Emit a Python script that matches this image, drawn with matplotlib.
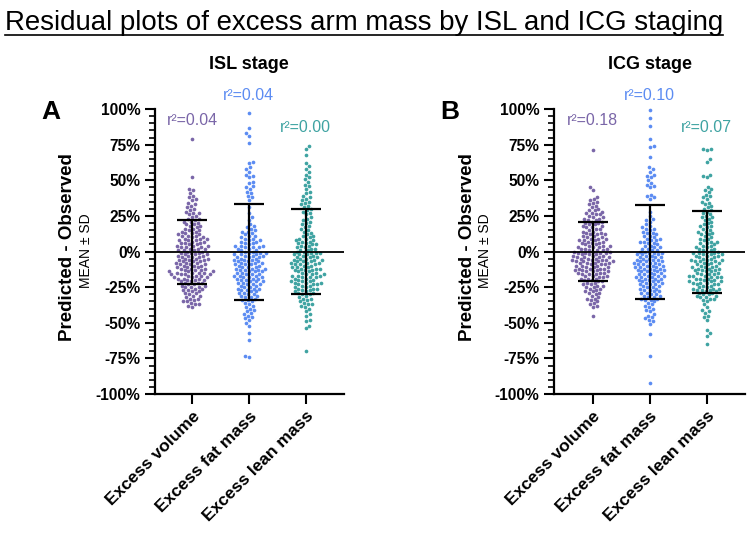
import numpy as np
import matplotlib.pyplot as plt
from matplotlib.lines import Line2D
from matplotlib.ticker import MultipleLocator

plt.rcParams['font.family'] = ['Liberation Sans', 'DejaVu Sans']

categories = ["Excess volume", "Excess fat mass", "Excess lean mass"]
colors = ['#7a66a8', '#5c8cf2', '#3fa3a2']

# residuals (%) - ISL staging
isl_volume = [79, 52, 44, 43, 41, 39, 38, 37, 36, 34, 33, 32, 31, 30,
              29, 28, 27, 27, 26, 25, 24, 23, 23, 22, 21, 21, 20,
              19, 19, 18, 18, 17, 16, 16, 15, 15,
              14, 14, 13, 13, 12, 12, 11, 11, 11, 10, 10,
              9, 9, 9, 8, 8, 8, 7, 7, 6, 6, 6, 5, 5,
              4, 4, 4, 3, 3, 3, 2, 2, 2, 1, 1, 1, 0, 0,
              -1, -1, -1, -2, -2, -2, -3, -3, -3, -4, -4, -4, -5, -5, -5,
              -6, -6, -6, -7, -7, -7, -8, -8, -8, -9, -9, -9, -10, -10, -10,
              -11, -11, -11, -12, -12, -12, -13, -13, -13, -14, -14, -14, -15, -15, -15, -15,
              -16, -16, -16, -16, -17, -17, -17, -18, -18, -18, -19, -19, -19, -20, -20, -20,
              -21, -21, -22, -22, -22, -23, -23, -24, -24, -25, -25, -25,
              -26, -26, -27, -27, -28, -28, -29, -29, -30,
              -31, -31, -32, -33, -33, -34, -35, -35,
              -36, -37, -37, -38, -39]
isl_fat = [97, 87, 83, 81, 76, 63, 62, 59, 58, 56, 54, 53, 52, 49, 48, 46, 45,
           44, 42, 41, 39, 38, 36, 31, 27, 24, 22,
           19, 18, 17, 16, 15, 14, 14, 13, 12, 11, 11, 10,
           9, 9, 8, 8, 7, 7, 6, 6, 5,
           4, 4, 4, 3, 3, 3, 2, 2, 1, 1, 0, 0,
           -1, -1, -1, -2, -2, -2, -3, -3, -3, -4, -4, -4, -5, -5,
           -6, -6, -6, -7, -7, -7, -8, -8, -8, -9, -9, -9, -10, -10,
           -11, -11, -11, -12, -12, -12, -13, -13, -13, -14, -14, -14, -15, -15,
           -16, -16, -16, -17, -17, -17, -18, -18, -18, -19, -19, -19, -20, -20,
           -21, -21, -21, -22, -22, -23, -23, -23, -24, -24, -25, -25,
           -26, -26, -26, -27, -27, -28, -28, -29, -29, -30, -30,
           -31, -31, -32, -32, -33, -34, -34, -35,
           -36, -37, -38, -39, -40, -41, -42, -43, -44, -45,
           -46, -47, -48, -50, -52, -57, -62, -73, -74]
isl_lean = [74, 72, 68, 62, 60, 58, 56, 54, 52, 51, 49, 47, 46, 44, 42, 41,
            39, 38, 37, 36, 35, 34, 33, 32, 31, 30, 29, 28, 27, 26,
            24, 23, 22, 21, 20, 19, 18, 17, 16, 15, 14, 13, 12, 11, 11,
            10, 9, 9, 8, 8, 7, 7, 6, 6, 5,
            5, 4, 4, 3, 3, 2, 2, 1, 1, 0, 0,
            -1, -1, -1, -2, -2, -2, -3, -3, -4, -4, -4, -5, -5,
            -6, -6, -6, -7, -7, -7, -8, -8, -8, -9, -9, -9, -10, -10,
            -11, -11, -11, -12, -12, -12, -13, -13, -13, -14, -14, -15, -15,
            -16, -16, -16, -17, -17, -17, -18, -18, -18, -19, -19, -20, -20,
            -21, -21, -21, -22, -22, -22, -23, -23, -23, -24, -24, -25, -25,
            -26, -26, -26, -27, -27, -28, -28, -29, -29, -30, -30,
            -31, -32, -33, -33, -34, -35, -36, -37, -37, -38, -39, -40,
            -42, -44, -45, -48, -49, -52, -54, -70]

# ICG staging
icg_volume = [71, 45, 43, 38, 37, 36, 35, 34, 33, 32, 31, 30,
              29, 29, 28, 27, 27, 26, 26, 25, 24, 24, 23, 23, 22, 22, 21, 21, 20,
              20, 19, 19, 18, 18, 17, 17, 16, 16, 15,
              14, 14, 13, 13, 12, 12, 12, 11, 11, 10, 10,
              9, 9, 9, 8, 8, 8, 7, 7, 6, 6, 6, 5, 5,
              4, 4, 4, 3, 3, 3, 2, 2, 2, 1, 1, 1, 0, 0, 0,
              -1, -1, -1, -1, -2, -2, -2, -3, -3, -3, -4, -4, -4, -4, -5, -5, -5,
              -6, -6, -6, -6, -7, -7, -7, -7, -8, -8, -8, -8, -9, -9, -9, -10, -10, -10,
              -11, -11, -11, -12, -12, -12, -12, -13, -13, -13, -14, -14, -14, -15, -15, -15,
              -16, -16, -16, -17, -17, -17, -18, -18, -19, -19, -19, -20, -20,
              -21, -21, -22, -22, -23, -23, -24, -24, -25, -25,
              -26, -26, -27, -28, -28, -29, -29, -30,
              -31, -32, -33, -33, -34, -35, -36, -37, -38, -39, -45]
icg_fat = [99, 94, 88, 79, 74, 73, 66, 59, 58, 56, 54, 53, 52, 50, 48, 47, 46, 45,
           40, 39, 38, 37, 28, 25, 23, 22, 21,
           19, 18, 17, 16, 16, 15, 14, 13, 13, 12, 11, 11, 10,
           9, 9, 8, 8, 7, 7, 6, 6, 5,
           4, 4, 3, 3, 2, 2, 1, 1, 0, 0,
           -1, -1, -1, -2, -2, -2, -3, -3, -4, -4, -4, -5, -5,
           -6, -6, -6, -7, -7, -7, -8, -8, -8, -9, -9, -9, -10, -10, -10,
           -11, -11, -11, -12, -12, -12, -13, -13, -13, -14, -14, -14, -15, -15,
           -16, -16, -16, -17, -17, -17, -18, -18, -18, -19, -19, -19, -20, -20,
           -21, -21, -21, -22, -22, -23, -23, -23, -24, -24, -25, -25,
           -26, -26, -27, -27, -28, -28, -29, -29, -30, -30,
           -31, -31, -32, -32, -33, -33, -34, -34, -35,
           -36, -37, -38, -39, -40, -41, -42, -44, -45,
           -46, -47, -48, -49, -51, -58, -73, -92]
icg_lean = [72, 72, 71, 65, 63, 54, 53, 52, 45, 44, 43, 42,
            40, 39, 38, 37, 35, 34, 33, 32, 31, 30, 29, 28, 27, 26, 25,
            24, 24, 23, 22, 21, 20, 19, 18, 18, 17, 16, 15,
            14, 14, 13, 12, 12, 11, 10, 9, 9, 8, 7, 7, 6, 6, 5,
            4, 4, 3, 3, 2, 2, 1, 1, 0, 0,
            -1, -1, -1, -2, -2, -2, -3, -3, -3, -4, -4, -5, -5,
            -6, -6, -6, -7, -7, -7, -8, -8, -8, -9, -9, -10, -10,
            -11, -11, -11, -12, -12, -12, -13, -13, -13, -14, -14, -15, -15,
            -16, -16, -16, -17, -17, -17, -18, -18, -18, -19, -19, -19, -20, -20,
            -21, -21, -21, -22, -22, -22, -23, -23, -23, -24, -24, -25, -25,
            -26, -26, -26, -27, -27, -27, -28, -28, -29, -29, -30, -30,
            -31, -31, -32, -32, -33, -33, -34, -35,
            -37, -39, -41, -42, -43, -45, -46, -48, -55, -57, -59, -65]

# mean +/- SD bars and r2 labels as shown
isl_mean = [-0.35, -0.5, -0.25]
isl_sd = [22.35, 33.5, 29.75]
icg_mean = [-0.25, -0.25, -0.25]
icg_sd = [20.75, 32.75, 28.75]
isl_r2 = ["0.04", "0.04", "0.00"]
icg_r2 = ["0.18", "0.10", "0.07"]
r2_y = [92, 109.5, 87]


def swarm(vals, d, ppu_y):
    y = np.asarray(vals, dtype=float) * ppu_y
    xs = np.zeros(len(y))
    placed = []
    for k, i in enumerate(np.argsort(y)):
        yi = y[i]
        near = [(px, py) for px, py in placed if abs(py - yi) < d]
        cands = [0.0]
        for px, py in near:
            dx = np.sqrt(d * d - (py - yi) ** 2)
            cands += [px + dx, px - dx]
        sgn = 1 if k % 2 else -1
        cands.sort(key=lambda c: (round(abs(c), 3), sgn * c))
        for c in cands:
            if all((c - px) ** 2 + (yi - py) ** 2 >= d * d - 1e-6 for px, py in near):
                xs[i] = c
                break
        placed.append((xs[i], yi))
    return xs


W, H = 749, 533
fig = plt.figure(figsize=(W / 100, H / 100), dpi=100)


def panel(left, right, xlim, groups, means, sds, r2s, letter, stage):
    ax = fig.add_axes([left / W, 1 - 394 / H, (right - left) / W, 285 / H])
    ax.set_xlim(*xlim)
    ax.set_ylim(-100, 100)
    ppu_x = ax.transData.transform((1, 0))[0] - ax.transData.transform((0, 0))[0]
    ppu_y = ax.transData.transform((0, 1))[1] - ax.transData.transform((0, 0))[1]
    for i, vals in enumerate(groups):
        off = swarm(vals, 4.0, ppu_y)
        ax.scatter(i + off / ppu_x, vals, s=7, color=colors[i], linewidths=0,
                   clip_on=False, zorder=2)
        ax.text(i, r2_y[i], "r²=" + r2s[i], color=colors[i], fontsize=11.5,
                ha='center', va='center')
    ax.axhline(0, color='black', lw=1.3, zorder=3)
    ax.errorbar(range(3), means, yerr=sds, fmt='none', ecolor='black',
                elinewidth=1.6, capsize=11, capthick=1.6, zorder=4)
    for s in ['top', 'right']:
        ax.spines[s].set_visible(False)
    for s in ['left', 'bottom']:
        ax.spines[s].set_linewidth(1.6)
    yt = list(range(-100, 101, 25))
    ax.set_yticks(yt, labels=[f"{t}%" for t in yt], fontweight='bold', fontsize=11.2)
    ax.yaxis.set_minor_locator(MultipleLocator(5))
    ax.tick_params(axis='y', which='major', length=7.5, width=1.5, pad=3)
    ax.tick_params(axis='y', which='minor', length=4, width=1.2)
    ax.set_xticks(range(3), labels=categories, rotation=45, ha='right',
                  rotation_mode='anchor', fontweight='bold', fontsize=12.5)
    ax.tick_params(axis='x', length=7.5, width=1.5, pad=3)
    fig.text((left - 87) / W, 1 - 247 / H, "Predicted - Observed", rotation=90,
             fontsize=13.5, fontweight='bold', ha='center', va='center')
    fig.text((left - 69) / W, 1 - 251 / H, "MEAN ± SD", rotation=90,
             fontsize=10, ha='center', va='center')
    fig.text((left - 104) / W, 1 - 112 / H, letter, fontsize=19,
             fontweight='bold', ha='center', va='center')
    x_mid = ax.transData.transform((1, 0))[0]
    fig.text(x_mid / W, 1 - 64 / H, stage, fontsize=13, fontweight='bold',
             ha='center', va='center')
    return ax


panel(155, 344, (-0.65, 2.67), [isl_volume, isl_fat, isl_lean],
      isl_mean, isl_sd, isl_r2, "A", "ISL stage")
panel(554, 745, (-0.68, 2.67), [icg_volume, icg_fat, icg_lean],
      icg_mean, icg_sd, icg_r2, "B", "ICG stage")

title = fig.text(5 / W, 1 - 30 / H, "Residual plots of excess arm mass by ISL and ICG staging",
                 fontsize=20, ha='left', va='baseline')
fig.canvas.draw()
bb = title.get_window_extent()
title.set_fontsize(20 * 718 / bb.width)
fig.canvas.draw()
bb = title.get_window_extent()
fig.add_artist(Line2D([bb.x0 / W, bb.x1 / W], [(H - 35) / H] * 2,
                      color='black', lw=1.2, transform=fig.transFigure))

fig.savefig('out.png', dpi=100)
